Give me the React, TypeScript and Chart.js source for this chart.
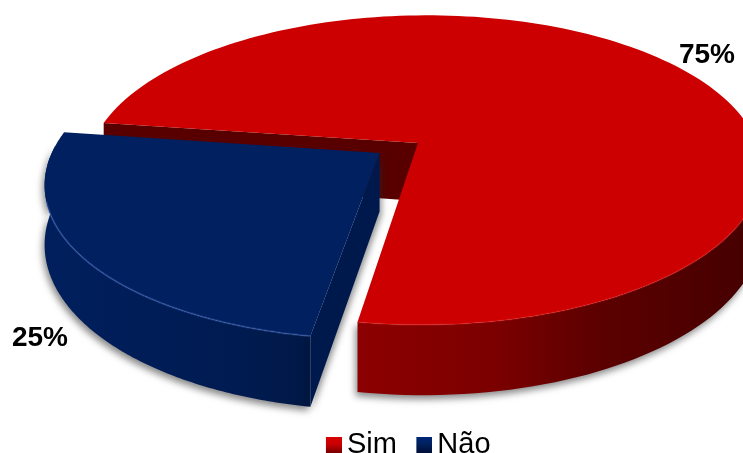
import React, { useEffect, useRef } from "react";
import { Chart, registerables } from "chart.js";

Chart.register(...registerables);

const categories = ["Sim", "Não"];
const shares = [75, 25];
const sliceColors = ["#cc0000", "#00205f"];
const sliceOffsets = [0, 25];

// Floor-plane projection of the unit disk, with a near side that grows towards the viewer.
const view = {
  cx: 418, cy: 143, rx: 332, ry: 150, tiltY: 0.175, tiltX: 0.02, skew: -4, depth: 58,
  explodeAngle: (150 * Math.PI) / 180, explodeUnit: 190,
};

const project = (u: number, v: number, drop = 0) => {
  const w = 1 - view.tiltY * v - view.tiltX * u;
  return {
    x: view.cx + (view.rx * u + view.skew * v) / w,
    y: view.cy + (view.ry * v + drop) / w,
  };
};

const trace = (ctx: CanvasRenderingContext2D, pts: { x: number; y: number }[]) => {
  ctx.beginPath();
  pts.forEach((p, i) => (i ? ctx.lineTo(p.x, p.y) : ctx.moveTo(p.x, p.y)));
  ctx.closePath();
};

const sideStyles = [
  {
    stops: [[0.0, "#8c0000"], [0.35, "#7c0000"], [0.62, "#5c0000"], [1, "#470000"]],
    from: 357, to: 743, wall: "#580000", rim: "rgba(255,40,40,0.22)",
  },
  {
    stops: [[0.0, "#001f5c"], [0.5, "#001c55"], [0.85, "#001a4c"], [1, "#00163f"]],
    from: 45, to: 320, wall: "#00194c", rim: "rgba(70,110,200,0.38)",
  },
];

const pieView3d = {
  id: "pieView3d",
  // The slices are rendered here in projection, from the arcs the controller laid out.
  beforeDatasetsDraw(chart: any) {
    const ctx: CanvasRenderingContext2D = chart.ctx;
    const arcs = chart.getDatasetMeta(0).data;
    arcs.forEach((arc: any, index: number) => {
      const style = sideStyles[index];
      const shift = (arc.options.offset || 0) / view.explodeUnit;
      const ox = Math.cos(view.explodeAngle) * shift;
      const oy = Math.sin(view.explodeAngle) * shift;
      const steps = 160;
      const rimTop: { x: number; y: number }[] = [];
      const rimBottom: { x: number; y: number }[] = [];
      const highlight: { x: number; y: number }[] = [];
      const outline: { x: number; y: number }[] = [project(ox, oy)];
      for (let i = 0; i <= steps; i++) {
        const a = arc.startAngle + ((arc.endAngle - arc.startAngle) * i) / steps;
        const u = Math.cos(a) + ox;
        const v = Math.sin(a) + oy;
        outline.push(project(u, v));
        if (Math.sin(a) > -0.05) {
          rimTop.push(project(u, v));
          rimBottom.push(project(u, v, view.depth));
        }
        if (Math.sin(a) > 0.3) highlight.push(project(u, v));
      }
      // Red's first edge is the far cut; blue's first edge is the near cut facing right.
      const edge = { u: Math.cos(arc.startAngle) + ox, v: Math.sin(arc.startAngle) + oy };

      ctx.save();
      ctx.shadowColor = "rgba(40,40,40,0.55)";
      ctx.shadowBlur = 7;
      ctx.shadowOffsetX = -2;
      ctx.shadowOffsetY = 4;
      const grad = ctx.createLinearGradient(style.from, 0, style.to, 0);
      style.stops.forEach(([p, c]) => grad.addColorStop(p as number, c as string));
      ctx.fillStyle = grad;
      trace(ctx, [...rimTop, ...rimBottom.slice().reverse()]);
      ctx.fill();
      ctx.restore();

      ctx.fillStyle = style.wall;
      ctx.save();
      if (index === 1) {
        ctx.shadowColor = "rgba(40,40,40,0.5)";
        ctx.shadowBlur = 6;
        ctx.shadowOffsetX = 2;
        ctx.shadowOffsetY = 3;
      }
      trace(ctx, [
        project(ox, oy),
        project(edge.u, edge.v),
        project(edge.u, edge.v, view.depth),
        project(ox, oy, view.depth),
      ]);
      ctx.fill();
      ctx.restore();

      ctx.fillStyle = arc.options.backgroundColor;
      trace(ctx, outline);
      ctx.fill();

      ctx.strokeStyle = style.rim;
      ctx.lineWidth = 2;
      ctx.beginPath();
      highlight.forEach((p, i) => (i ? ctx.lineTo(p.x, p.y) : ctx.moveTo(p.x, p.y)));
      ctx.stroke();
    });
    return false;
  },
  afterDraw(chart: any) {
    const ctx: CanvasRenderingContext2D = chart.ctx;
    const values: number[] = chart.data.datasets[0].data;
    const total = values.reduce((s, n) => s + n, 0);
    ctx.save();
    ctx.font = 'bold 28px "Liberation Sans", Arial, sans-serif';
    ctx.fillStyle = "#000";
    ctx.textAlign = "center";
    ctx.textBaseline = "middle";
    const anchors = [[707, 55], [40, 338]];
    values.forEach((value, i) => {
      ctx.fillText(`${Math.round((value / total) * 100)}%`, anchors[i][0], anchors[i][1]);
    });
    ctx.restore();
  },
};

// Small bevelled square used as the legend key, nudged right inside its canvas.
const bevelKey = (light: string, mid: string, dark: string) => {
  const c = document.createElement("canvas");
  c.width = 20;
  c.height = 16;
  const g = c.getContext("2d")!;
  g.translate(4, 0);
  const grad = g.createLinearGradient(0, 0, 0, 16);
  grad.addColorStop(0, light);
  grad.addColorStop(0.5, mid);
  grad.addColorStop(1, dark);
  g.fillStyle = grad;
  g.fillRect(0, 0, 16, 16);
  return c;
};

export default function App() {
  const ref = useRef<HTMLCanvasElement>(null);
  useEffect(() => {
    document.body.style.margin = "0";
    const keys = [bevelKey("#dc0000", "#c80000", "#7a0000"), bevelKey("#00287a", "#001f5c", "#00103a")];
    const chart = new Chart(ref.current!, {
      type: "pie",
      data: {
        labels: categories,
        datasets: [{ data: shares, backgroundColor: sliceColors, offset: sliceOffsets, borderWidth: 0 }],
      },
      plugins: [pieView3d],
      options: {
        responsive: false,
        animation: false,
        rotation: 278,
        layout: { padding: { left: 79, bottom: -16 } },
        plugins: {
          tooltip: { enabled: false },
          legend: {
            position: "bottom",
            labels: {
              color: "#000",
              font: { family: '"Liberation Sans", Arial, sans-serif', size: 29 },
              padding: 25,
              usePointStyle: true,
              boxWidth: 1,
              generateLabels(c: any) {
                const items = Chart.overrides.pie.plugins.legend.labels.generateLabels(c);
                return items.map((item: any, i: number) => ({ ...item, pointStyle: keys[i] }));
              },
            },
          },
        },
      },
    } as any);
    return () => chart.destroy();
  }, []);
  return <canvas ref={ref} width={743} height={453} style={{ display: "block" }} />;
}
